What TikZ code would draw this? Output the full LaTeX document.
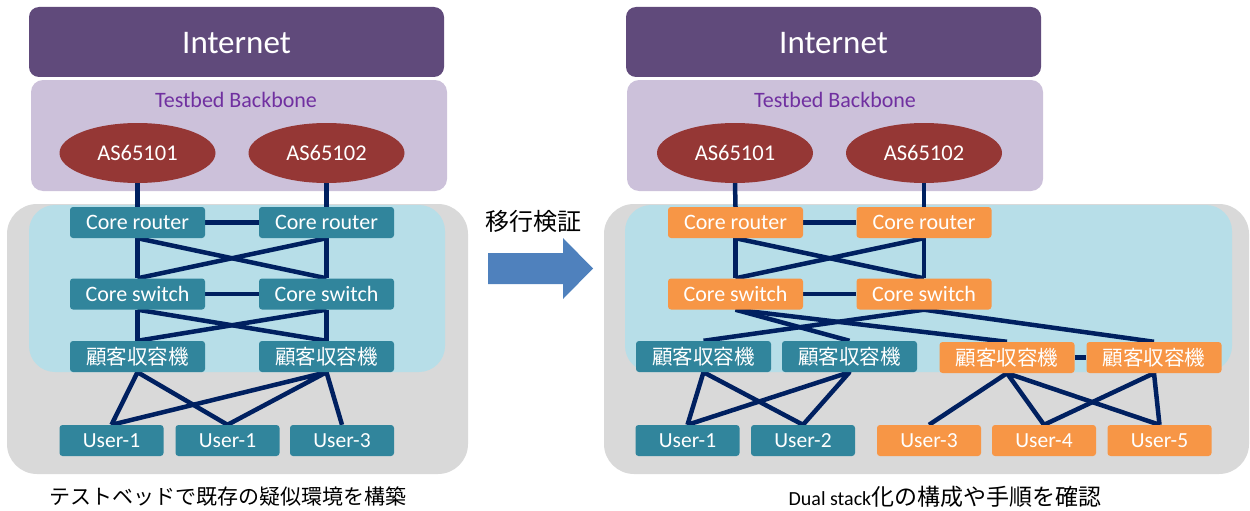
\documentclass[tikz,border=0pt]{standalone}
\usepackage{fontspec}
\setmainfont{Carlito}
\newfontfamily\jp{Noto Sans CJK JP}
\usetikzlibrary{shapes.geometric}
\definecolor{inetc}{HTML}{604A7B}
\definecolor{bbc}{HTML}{CCC1DA}
\definecolor{bbtext}{HTML}{7030A0}
\definecolor{asc}{HTML}{953735}
\definecolor{grayc}{HTML}{D9D9D9}
\definecolor{lbc}{HTML}{B7DEE8}
\definecolor{tealc}{HTML}{31859C}
\definecolor{orangec}{HTML}{F79646}
\definecolor{linec}{HTML}{002060}
\definecolor{arrowc}{HTML}{4F81BD}
\pgfdeclarelayer{bg}
\pgfdeclarelayer{lines}
\pgfsetlayers{bg,lines,main}
\tikzset{
  inetbox/.style={fill=inetc, draw=none, rounded corners=10pt},
  bbbox/.style={fill=bbc, draw=none, rounded corners=12pt},
  graybox/.style={fill=grayc, draw=none, rounded corners=30pt},
  lbbox/.style={fill=lbc, draw=none, rounded corners=26pt},
  asnode/.style={ellipse, fill=asc, draw=none, minimum width=156pt, minimum height=60pt, inner sep=0pt, text=white, font=\fontsize{22.5}{24}\selectfont},
  devbox/.style={rectangle, rounded corners=3pt, draw=none, minimum width=135pt, minimum height=31pt, inner sep=0pt, text=white, font=\fontsize{22}{24}\selectfont},
  jpbox/.style={devbox, font=\jp\fontsize{20.5}{22}\selectfont},
  userbox/.style={devbox, minimum width=104pt, font=\fontsize{21.5}{24}\selectfont},
  tealn/.style={fill=tealc},
  orangen/.style={fill=orangec},
  link/.style={draw=linec, line width=4.5pt},
}
\begin{document}
\begin{tikzpicture}[x=1pt,y=-1pt]
\useasboundingbox (0,0) rectangle (1250,511);
\begin{pgfonlayer}{bg}
% left panel boxes
\path[inetbox] (29,7) rectangle (444,77);
\path[bbbox] (31,80) rectangle (447,191);
\path[graybox] (7,204) rectangle (468,474);
\path[lbbox] (29,205) rectangle (445,372);
% right panel boxes
\path[inetbox] (626,7) rectangle (1041,77);
\path[bbbox] (627,80) rectangle (1043,191);
\path[graybox] (604,204) rectangle (1249,474);
\path[lbbox] (625,205) rectangle (1232,372);
\end{pgfonlayer}

% ---------- left panel ----------
\node[text=white, font=\fontsize{33}{36}\selectfont] (inetL) at (236.5,43) {Internet};
\node[text=bbtext, font=\fontsize{22}{24}\selectfont] (bbL) at (236,100) {Testbed Backbone};
\node[asnode] (as1L) at (137.5,153) {AS65101};
\node[asnode] (as2L) at (326.5,153) {AS65102};
\node[devbox, tealn] (crL1) at (137.5,222.5) {Core router};
\node[devbox, tealn] (crL2) at (326.5,222.5) {Core router};
\node[devbox, tealn] (csL1) at (137.5,294) {Core switch};
\node[devbox, tealn] (csL2) at (326.5,294) {Core switch};
\node[jpbox, tealn] (kkL1) at (137.5,356.5) {顧客収容機};
\node[jpbox, tealn] (kkL2) at (326.5,356.5) {顧客収容機};
\node[userbox, tealn] (uL1) at (111.5,440.5) {User-1};
\node[userbox, tealn] (uL2) at (227.5,440.5) {User-1};
\node[userbox, tealn] (uL3) at (342,440.5) {User-3};
\node[font=\jp\fontsize{21}{24}\selectfont] (capL) at (228,497) {テストベッドで既存の疑似環境を構築};

% ---------- arrow ----------
\node[font=\jp\fontsize{24}{26}\selectfont] (mig) at (533,221) {移行検証};
\path[fill=arrowc] (488,253) -- (563,253) -- (563,238) -- (593,268.5) -- (563,299) -- (563,284) -- (488,284) -- cycle;

% ---------- right panel ----------
\node[text=white, font=\fontsize{33}{36}\selectfont] (inetR) at (833.5,43) {Internet};
\node[text=bbtext, font=\fontsize{22}{24}\selectfont] (bbR) at (835,100) {Testbed Backbone};
\node[asnode] (as1R) at (735,153) {AS65101};
\node[asnode] (as2R) at (924,153) {AS65102};
\node[devbox, orangen] (crR1) at (735.5,222.5) {Core router};
\node[devbox, orangen] (crR2) at (924,222.5) {Core router};
\node[devbox, orangen] (csR1) at (735.5,294) {Core switch};
\node[devbox, orangen] (csR2) at (924,294) {Core switch};
\node[jpbox, tealn] (kkR1) at (703.5,356.5) {顧客収容機};
\node[jpbox, tealn] (kkR2) at (849.5,356.5) {顧客収容機};
\node[jpbox, orangen] (kkR3) at (1007,357.5) {顧客収容機};
\node[jpbox, orangen] (kkR4) at (1154,357.5) {顧客収容機};
\node[userbox, tealn] (uR1) at (687.5,440.5) {User-1};
\node[userbox, tealn] (uR2) at (803,440.5) {User-2};
\node[userbox, orangen] (uR3) at (929,440.5) {User-3};
\node[userbox, orangen] (uR4) at (1044,440.5) {User-4};
\node[userbox, orangen] (uR5) at (1159.5,440.5) {User-5};
\node (capR) at (945,497) {\fontsize{20}{24}\selectfont Dual stack{\jp\fontsize{23}{24}\selectfont 化の構成や手順を確認}};

% ---------- links ----------
\begin{pgfonlayer}{lines}
% left
\draw[link] (as1L.south) -- (crL1.north);
\draw[link] (as2L.south) -- (crL2.north);
\draw[link] (crL1.east) -- (crL2.west);
\draw[link] (crL1.south) -- (csL1.north);
\draw[link] (crL2.south) -- (csL2.north);
\draw[link] (crL1.south) -- (csL2.north);
\draw[link] (crL2.south) -- (csL1.north);
\draw[link] (csL1.east) -- (csL2.west);
\draw[link] (csL1.south) -- (kkL1.north);
\draw[link] (csL2.south) -- (kkL2.north);
\draw[link] (csL1.south) -- (kkL2.north);
\draw[link] (csL2.south) -- (kkL1.north);
\draw[link, line join=round] (uL1.north) -- (kkL1.south) -- (uL2.north);
\draw[link, line join=round] (uL1.north) -- (kkL2.south) -- (uL2.north);
\draw[link] (kkL2.south) -- (uL3.north);
% right
\draw[link] (as1R.south) -- (crR1.north);
\draw[link] (as2R.south) -- (crR2.north);
\draw[link] (crR1.east) -- (crR2.west);
\draw[link] (crR1.south) -- (csR1.north);
\draw[link] (crR2.south) -- (csR2.north);
\draw[link] (crR1.south) -- (csR2.north);
\draw[link] (crR2.south) -- (csR1.north);
\draw[link] (csR1.east) -- (csR2.west);
\draw[link] (csR1.south) -- (kkR2.north);
\draw[link] (csR1.south) -- (kkR3.north);
\draw[link] (csR2.south) -- (kkR1.north);
\draw[link] (csR2.south) -- (kkR4.north);
\draw[link] (kkR3.east) -- (kkR4.west);
\draw[link, line join=round] (uR1.north) -- (kkR1.south) -- (uR2.north);
\draw[link, line join=round] (uR1.north) -- (kkR2.south) -- (uR2.north);
\draw[link] (kkR3.south) -- (uR3.north);
\draw[link, line join=round] (uR4.north) -- (kkR3.south) -- (uR5.north);
\draw[link, line join=round] (uR4.north) -- (kkR4.south) -- (uR5.north);
\end{pgfonlayer}
\end{tikzpicture}
\end{document}
